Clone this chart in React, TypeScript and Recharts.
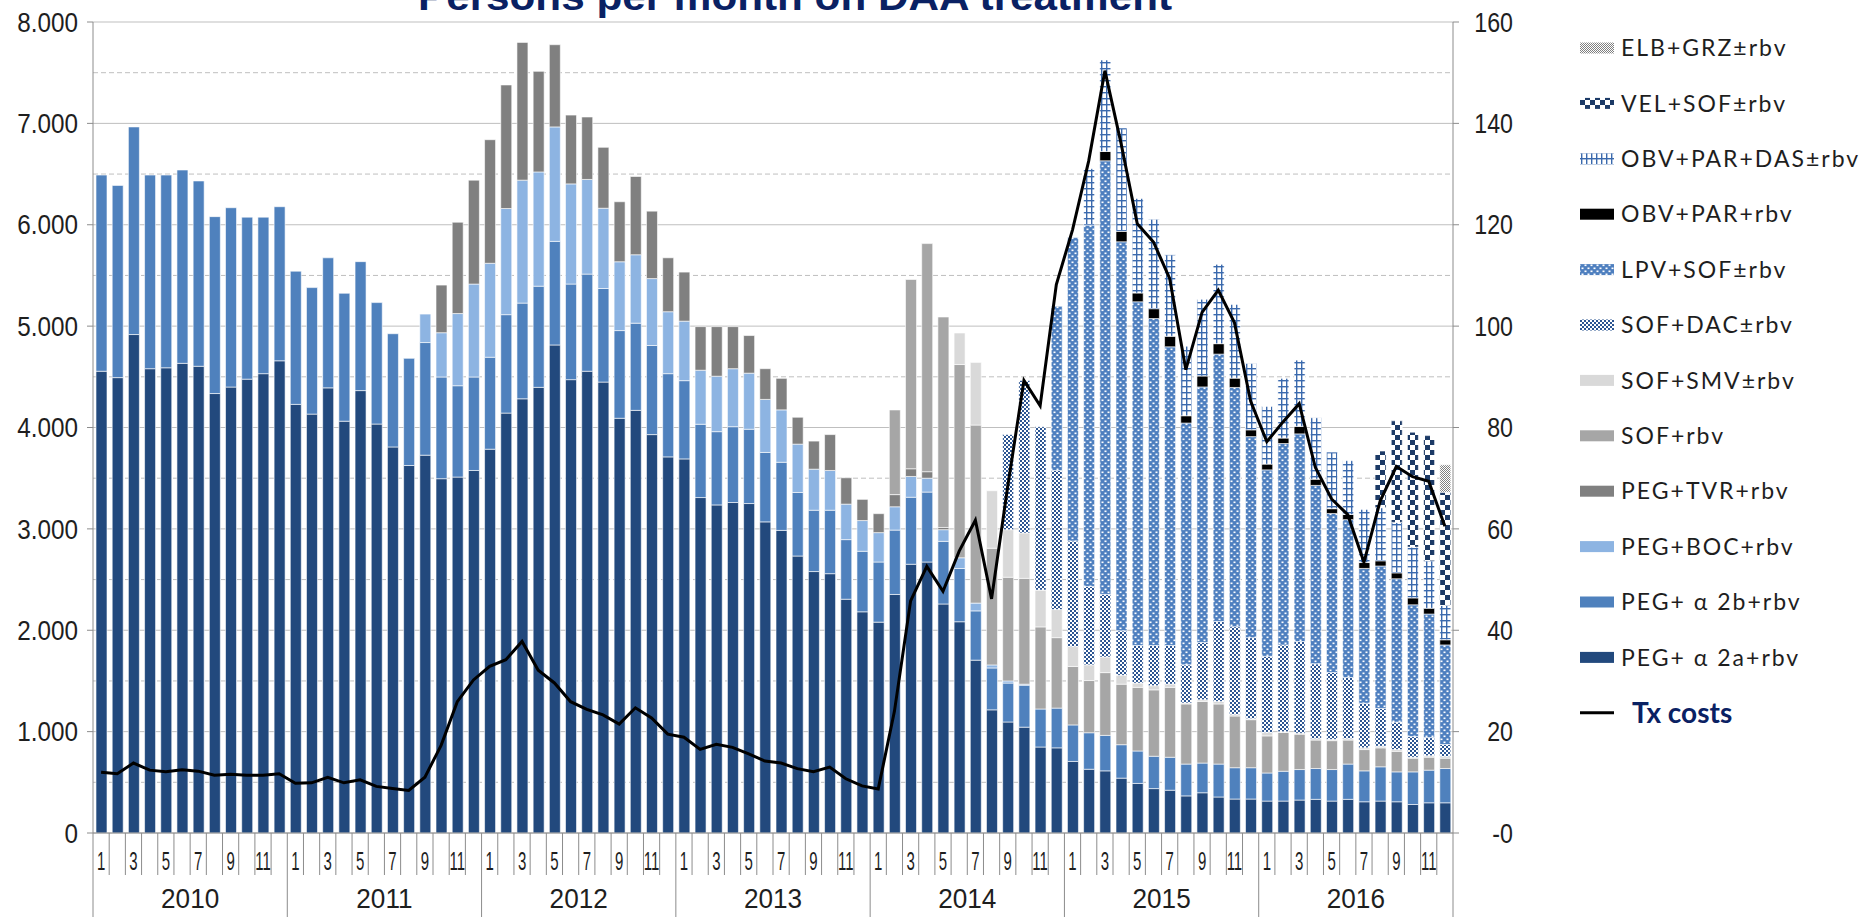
import React from 'react';
import { ComposedChart, Bar, Line, XAxis, YAxis, CartesianGrid } from 'recharts';

// ---- data, one value per month Jan 2010 .. Dec 2016 ----
const years = ['2010', '2011', '2012', '2013', '2014', '2015', '2016'];

const peg2a = [
  4555, 4492, 4917, 4580, 4589, 4633, 4604, 4335, 4399, 4477, 4531, 4658,
  4228, 4132, 4391, 4062, 4364, 4034, 3808, 3625, 3727, 3495, 3511, 3576,
  3786, 4142, 4283, 4396, 4814, 4472, 4555, 4448, 4091, 4169, 3930, 3710,
  3690, 3309, 3236, 3260, 3250, 3069, 2985, 2732, 2579, 2558, 2306, 2182,
  2080, 2353, 2651, 2673, 2259, 2084, 1705, 1215, 1095, 1044, 848, 840,
  706, 629, 613, 541, 489, 438, 422, 366, 397, 355, 335, 335,
  315, 315, 325, 332, 315, 332, 308, 315, 308, 281, 298, 298,
];
const peg2b = [
  1935, 1896, 2048, 1910, 1901, 1907, 1828, 1745, 1769, 1598, 1544, 1520,
  1314, 1248, 1283, 1262, 1272, 1198, 1117, 1057, 1111, 1003, 901, 922,
  907, 971, 944, 998, 1022, 943, 958, 923, 865, 860, 879, 821,
  772, 723, 723, 748, 733, 685, 672, 627, 605, 626, 588, 597,
  593, 635, 661, 690, 618, 525, 486, 413, 384, 414, 375, 392,
  360, 360, 350, 330, 320, 319, 325, 314, 293, 325, 309, 309,
  277, 294, 301, 304, 311, 348, 305, 338, 295, 322, 322, 338,
];
const pegBoc = [
  0, 0, 0, 0, 0, 0, 0, 0, 0, 0, 0, 0,
  0, 0, 0, 0, 0, 0, 0, 0, 281, 437, 712, 917,
  927, 1047, 1213, 1127, 1129, 988, 934, 792, 679, 675, 660, 611,
  587, 533, 547, 572, 553, 523, 517, 477, 405, 392, 350, 303,
  290, 230, 205, 137, 115, 106, 77, 30, 21, 10, 0, 0,
  0, 0, 0, 0, 0, 0, 0, 0, 0, 0, 0, 0,
  0, 0, 0, 0, 0, 0, 0, 0, 0, 0, 0, 0,
];
const pegTvr = [
  0, 0, 0, 0, 0, 0, 0, 0, 0, 0, 0, 0,
  0, 0, 0, 0, 0, 0, 0, 0, 0, 470, 901, 1025,
  1219, 1219, 1359, 992, 811, 679, 616, 601, 592, 772, 665, 532,
  484, 430, 489, 415, 371, 303, 311, 265, 277, 354, 260, 209,
  187, 120, 76, 64, 22, 0, 0, 0, 0, 0, 0, 0,
  0, 0, 0, 0, 0, 0, 0, 0, 0, 0, 0, 0,
  0, 0, 0, 0, 0, 0, 0, 0, 0, 0, 0, 0,
];
const sofRbv = [
  0, 0, 0, 0, 0, 0, 0, 0, 0, 0, 0, 0,
  0, 0, 0, 0, 0, 0, 0, 0, 0, 0, 0, 0,
  0, 0, 0, 0, 0, 0, 0, 0, 0, 0, 0, 0,
  0, 0, 0, 0, 0, 0, 0, 0, 0, 0, 0, 0,
  0, 835, 1867, 2250, 2076, 1906, 1756, 1151, 1023, 1044, 810, 695,
  577, 515, 619, 597, 628, 655, 690, 593, 608, 593, 510, 474,
  366, 383, 349, 281, 285, 237, 210, 187, 203, 135, 128, 102,
];
const sofSmv = [
  0, 0, 0, 0, 0, 0, 0, 0, 0, 0, 0, 0,
  0, 0, 0, 0, 0, 0, 0, 0, 0, 0, 0, 0,
  0, 0, 0, 0, 0, 0, 0, 0, 0, 0, 0, 0,
  0, 0, 0, 0, 0, 0, 0, 0, 0, 0, 0, 0,
  0, 0, 0, 0, 0, 311, 618, 567, 469, 448, 363, 277,
  196, 155, 154, 88, 42, 41, 31, 10, 16, 25, 16, 10,
  34, 7, 10, 14, 13, 14, 17, 16, 17, 10, 14, 17,
];
const sofDac = [
  0, 0, 0, 0, 0, 0, 0, 0, 0, 0, 0, 0,
  0, 0, 0, 0, 0, 0, 0, 0, 0, 0, 0, 0,
  0, 0, 0, 0, 0, 0, 0, 0, 0, 0, 0, 0,
  0, 0, 0, 0, 0, 0, 0, 0, 0, 0, 0, 0,
  0, 0, 0, 0, 0, 0, 0, 0, 938, 1504, 1611, 1372,
  1041, 773, 618, 438, 371, 397, 382, 376, 566, 789, 865, 799,
  751, 856, 904, 738, 660, 603, 440, 373, 271, 203, 179, 118,
];
const lpvSof = [
  0, 0, 0, 0, 0, 0, 0, 0, 0, 0, 0, 0,
  0, 0, 0, 0, 0, 0, 0, 0, 0, 0, 0, 0,
  0, 0, 0, 0, 0, 0, 0, 0, 0, 0, 0, 0,
  0, 0, 0, 0, 0, 0, 0, 0, 0, 0, 0, 0,
  0, 0, 0, 0, 0, 0, 0, 0, 0, 0, 0, 1620,
  2993, 3565, 4277, 3838, 3390, 3225, 2946, 2385, 2520, 2637, 2360, 1983,
  1839, 1987, 2048, 1760, 1568, 1557, 1330, 1405, 1414, 1300, 1219, 982,
];
const obvPar = [
  0, 0, 0, 0, 0, 0, 0, 0, 0, 0, 0, 0,
  0, 0, 0, 0, 0, 0, 0, 0, 0, 0, 0, 0,
  0, 0, 0, 0, 0, 0, 0, 0, 0, 0, 0, 0,
  0, 0, 0, 0, 0, 0, 0, 0, 0, 0, 0, 0,
  0, 0, 0, 0, 0, 0, 0, 0, 0, 0, 0, 0,
  0, 0, 92, 103, 87, 97, 104, 72, 108, 103, 92, 67,
  57, 54, 74, 61, 47, 51, 58, 51, 58, 68, 57, 51,
];
const obvParDas = [
  0, 0, 0, 0, 0, 0, 0, 0, 0, 0, 0, 0,
  0, 0, 0, 0, 0, 0, 0, 0, 0, 0, 0, 0,
  0, 0, 0, 0, 0, 0, 0, 0, 0, 0, 0, 0,
  0, 0, 0, 0, 0, 0, 0, 0, 0, 0, 0, 0,
  0, 0, 0, 0, 0, 0, 0, 0, 0, 0, 0, 0,
  0, 556, 902, 1020, 933, 882, 803, 686, 757, 783, 727, 655,
  569, 589, 654, 606, 559, 531, 524, 524, 498, 501, 468, 338,
];
const velSof = [
  0, 0, 0, 0, 0, 0, 0, 0, 0, 0, 0, 0,
  0, 0, 0, 0, 0, 0, 0, 0, 0, 0, 0, 0,
  0, 0, 0, 0, 0, 0, 0, 0, 0, 0, 0, 0,
  0, 0, 0, 0, 0, 0, 0, 0, 0, 0, 0, 0,
  0, 0, 0, 0, 0, 0, 0, 0, 0, 0, 0, 0,
  0, 0, 0, 0, 0, 0, 0, 0, 0, 0, 0, 0,
  0, 0, 0, 0, 0, 0, 0, 559, 1002, 1134, 1235, 1118,
];
const elbGrz = [
  0, 0, 0, 0, 0, 0, 0, 0, 0, 0, 0, 0,
  0, 0, 0, 0, 0, 0, 0, 0, 0, 0, 0, 0,
  0, 0, 0, 0, 0, 0, 0, 0, 0, 0, 0, 0,
  0, 0, 0, 0, 0, 0, 0, 0, 0, 0, 0, 0,
  0, 0, 0, 0, 0, 0, 0, 0, 0, 0, 0, 0,
  0, 0, 0, 0, 0, 0, 0, 0, 0, 0, 0, 0,
  0, 0, 0, 0, 0, 0, 0, 0, 0, 0, 0, 270,
];
// treatment costs, right axis
const txCosts = [
  12.0, 11.7, 13.8, 12.4, 12.1, 12.5, 12.2, 11.4, 11.6, 11.4, 11.4, 11.7,
  9.8, 9.9, 11.0, 9.9, 10.5, 9.2, 8.8, 8.4, 11.0, 17.3, 25.9, 30.2,
  32.9, 34.2, 37.8, 32.1, 29.6, 25.9, 24.4, 23.3, 21.5, 24.7, 22.7, 19.5,
  18.9, 16.5, 17.5, 16.9, 15.6, 14.2, 13.8, 12.7, 12.1, 13.0, 10.7, 9.3,
  8.7, 24.0, 45.8, 52.6, 47.7, 55.6, 61.7, 46.2, 68.4, 89.3, 84.3, 108.2,
  119.0, 132.6, 150.4, 136.0, 120.2, 116.6, 109.4, 91.4, 102.7, 107.1, 100.7, 85.2,
  77.2, 81.1, 84.7, 72.1, 65.9, 62.8, 53.4, 65.5, 72.3, 70.3, 69.4, 60.5,
];

const leftTicks = [0, 1000, 2000, 3000, 4000, 5000, 6000, 7000, 8000];
const halfTicks = [500, 1500, 2500, 3500, 4500, 5500, 6500, 7500];
const rightTicks = [0, 20, 40, 60, 80, 100, 120, 140, 160];

// stack order, bottom to top
const series = [
  { key: 'peg2a', name: 'PEG+ \u03b1 2a+rbv', fill: '#22497d', values: peg2a },
  { key: 'peg2b', name: 'PEG+ \u03b1 2b+rbv', fill: '#4f81bd', values: peg2b },
  { key: 'pegBoc', name: 'PEG+BOC+rbv', fill: '#8db4e2', values: pegBoc },
  { key: 'pegTvr', name: 'PEG+TVR+rbv', fill: '#808080', values: pegTvr },
  { key: 'sofRbv', name: 'SOF+rbv', fill: '#a6a6a6', values: sofRbv },
  { key: 'sofSmv', name: 'SOF+SMV\u00b1rbv', fill: '#d9d9d9', values: sofSmv },
  { key: 'sofDac', name: 'SOF+DAC\u00b1rbv', fill: 'url(#patDac)', values: sofDac },
  { key: 'lpvSof', name: 'LPV+SOF\u00b1rbv', fill: 'url(#patLpv)', values: lpvSof },
  { key: 'obvPar', name: 'OBV+PAR+rbv', fill: '#000000', values: obvPar },
  { key: 'obvParDas', name: 'OBV+PAR+DAS\u00b1rbv', fill: 'url(#patOpd)', values: obvParDas },
  { key: 'velSof', name: 'VEL+SOF\u00b1rbv', fill: 'url(#patVel)', values: velSof },
  { key: 'elbGrz', name: 'ELB+GRZ\u00b1rbv', fill: 'url(#patElb)', values: elbGrz },
];

const data = txCosts.map((tx, i) => {
  const row: Record<string, number> = { idx: i, tx };
  series.forEach((s) => { row[s.key] = s.values[i]; });
  return row;
});

// ---- layout ----
const W = 1872;
const H = 917;
const MARGIN = { top: 22, right: 349, bottom: 0, left: 8 };
const LEFT_W = 85;
const RIGHT_W = 70;
const X_H = 84;
const PLOT_LEFT = MARGIN.left + LEFT_W;
const PLOT_RIGHT = W - MARGIN.right - RIGHT_W;
const PLOT_TOP = MARGIN.top;
const PLOT_BOTTOM = H - MARGIN.bottom - X_H;
const PLOT_H = PLOT_BOTTOM - PLOT_TOP;
const BAND = (PLOT_RIGHT - PLOT_LEFT) / txCosts.length;

const AXIS_GRAY = '#8c8c8c';
const TEXT = '#1e1e1e';
const FONT = '"Liberation Sans", Arial, sans-serif';

const gridY = (vals: number[]) => () => vals.map((v) => PLOT_TOP + PLOT_H * (1 - v / 8000));

const fmtLeft = (v: number) => (v === 0 ? '0' : (v / 1000).toFixed(3));
const fmtRight = (v: number) => (v === 0 ? '-0' : String(v));

const LeftTick = ({ x, y, payload }: any) => (
  <text
    transform={`translate(${x},${y}) scale(0.9,1)`}
    textAnchor="end"
    dy="0.36em"
    fontSize={27}
    fontFamily={FONT}
    fill={TEXT}
  >
    {fmtLeft(payload.value)}
  </text>
);

const RightTick = ({ x, y, payload }: any) => (
  <text
    transform={`translate(${x + 52},${y}) scale(0.86,1)`}
    textAnchor="end"
    dy="0.36em"
    fontSize={27}
    fontFamily={FONT}
    fill={TEXT}
  >
    {fmtRight(payload.value)}
  </text>
);

const MonthTick = ({ x, payload }: any) => {
  const i = Number(payload.value);
  const m = (i % 12) + 1;
  const left = x - BAND / 2;
  const right = x + BAND / 2;
  return (
    <g>
      <line x1={left} x2={left} y1={PLOT_BOTTOM} y2={m === 1 ? H : PLOT_BOTTOM + 42} stroke={AXIS_GRAY} strokeWidth={1} />
      {i === txCosts.length - 1 && (
        <line x1={right} x2={right} y1={PLOT_BOTTOM} y2={H} stroke={AXIS_GRAY} strokeWidth={1} />
      )}
      {m % 2 === 1 && (
        <text
          transform={`translate(${x},${PLOT_BOTTOM + 37}) scale(0.6,1)`}
          textAnchor="middle"
          fontSize={25}
          fontFamily={FONT}
          fill={TEXT}
        >
          {m}
        </text>
      )}
      {m === 7 && (
        <text
          transform={`translate(${left},${H - 9}) scale(0.97,1)`}
          textAnchor="middle"
          fontSize={27}
          fontFamily={FONT}
          fill={TEXT}
        >
          {years[Math.floor(i / 12)]}
        </text>
      )}
    </g>
  );
};

const Patterns = () => (
  <defs>
    <pattern id="patDac" width="4" height="4" patternUnits="userSpaceOnUse">
      <rect width="4" height="4" fill="#ffffff" />
      <rect width="2" height="2" fill="#2c5592" />
      <rect x="2" y="2" width="2" height="2" fill="#2c5592" />
    </pattern>
    <pattern id="patLpv" width="6" height="6" patternUnits="userSpaceOnUse">
      <rect width="6" height="6" fill="#4e7fbf" />
      <rect x="0.5" y="0.5" width="2" height="1.6" fill="#ffffff" />
      <rect x="3.5" y="3.5" width="2" height="1.6" fill="#ffffff" />
    </pattern>
    <pattern id="patOpd" width="5" height="6" patternUnits="userSpaceOnUse">
      <rect width="5" height="6" fill="#ffffff" />
      <rect x="1" y="0" width="1.4" height="6" fill="#3a69ad" />
      <rect x="0" y="2" width="5" height="1.4" fill="#3a69ad" />
    </pattern>
    <pattern id="patVel" width="10" height="10" patternUnits="userSpaceOnUse">
      <rect width="10" height="10" fill="#ffffff" />
      <rect width="5" height="5" fill="#1c3a66" />
      <rect x="5" y="5" width="5" height="5" fill="#1c3a66" />
    </pattern>
    <pattern id="patElb" width="2" height="2" patternUnits="userSpaceOnUse">
      <rect width="2" height="2" fill="#ffffff" />
      <rect width="1" height="1" fill="#7f7f7f" />
      <rect x="1" y="1" width="1" height="1" fill="#7f7f7f" />
    </pattern>
  </defs>
);

const LEGEND_X = 1580;
const LEGEND_Y0 = 48;
const LEGEND_STEP = 55.4;

const Overlay = () => {
  const items = [...series].reverse();
  return (
    <svg width={W} height={H} style={{ position: 'absolute', left: 0, top: 0, pointerEvents: 'none' }}>
      <Patterns />
      <text
        x={795}
        y={10}
        textAnchor="middle"
        fontSize={38}
        fontWeight="bold"
        fontFamily={FONT}
        fill="#0a2163"
        textLength={754}
        lengthAdjust="spacingAndGlyphs"
      >
        Persons per month on DAA treatment
      </text>
      {items.map((s, k) => {
        const cy = LEGEND_Y0 + k * LEGEND_STEP;
        return (
          <g key={s.key}>
            <rect x={LEGEND_X} y={cy - 5.5} width={34} height={11} fill={s.fill} />
            <text
              x={1621}
              y={cy}
              dy="0.36em"
              fontSize={23}
              letterSpacing={2}
              fontFamily="Lato, sans-serif"
              fill={TEXT}
            >
              {s.name}
            </text>
          </g>
        );
      })}
      <line
        x1={LEGEND_X}
        x2={LEGEND_X + 34}
        y1={LEGEND_Y0 + 12 * LEGEND_STEP}
        y2={LEGEND_Y0 + 12 * LEGEND_STEP}
        stroke="#000"
        strokeWidth={3}
      />
      <text
        x={1632}
        y={LEGEND_Y0 + 12 * LEGEND_STEP}
        dy="0.36em"
        fontSize={28}
        fontWeight="bold"
        fontFamily="Lato, sans-serif"
        fill="#0a2163"
      >
        Tx costs
      </text>
    </svg>
  );
};

export default function App() {
  return (
    <div style={{ position: 'absolute', left: 0, top: 0, width: W, height: H, background: '#fff' }}>
      <ComposedChart width={W} height={H} data={data} margin={MARGIN}>
        <CartesianGrid
          yAxisId="left"
          vertical={false}
          stroke="#bfbfbf"
          horizontalCoordinatesGenerator={gridY(leftTicks)}
        />
        <CartesianGrid
          yAxisId="left"
          vertical={false}
          stroke="#bfbfbf"
          strokeDasharray="5 3"
          horizontalCoordinatesGenerator={gridY(halfTicks)}
        />
        <XAxis
          dataKey="idx"
          type="category"
          interval={0}
          height={X_H}
          tickLine={false}
          axisLine={{ stroke: AXIS_GRAY }}
          tick={<MonthTick />}
        />
        <YAxis
          yAxisId="left"
          orientation="left"
          width={LEFT_W}
          domain={[0, 8000]}
          ticks={leftTicks}
          interval={0}
          tickSize={6}
          tickMargin={9}
          tickLine={{ stroke: AXIS_GRAY }}
          axisLine={{ stroke: AXIS_GRAY }}
          tick={<LeftTick />}
        />
        <YAxis
          yAxisId="right"
          orientation="right"
          width={RIGHT_W}
          domain={[0, 160]}
          ticks={rightTicks}
          interval={0}
          tickSize={6}
          tickLine={{ stroke: AXIS_GRAY }}
          axisLine={{ stroke: AXIS_GRAY }}
          tick={<RightTick />}
        />
        {series.map((s) => (
          <Bar
            key={s.key}
            dataKey={s.key}
            name={s.name}
            yAxisId="left"
            stackId="drugs"
            fill={s.fill}
            stroke="#ffffff"
            strokeWidth={0.6}
            barSize={11}
            isAnimationActive={false}
          />
        ))}
        <Line
          yAxisId="right"
          dataKey="tx"
          name="Tx costs"
          type="linear"
          stroke="#000000"
          strokeWidth={3}
          dot={false}
          isAnimationActive={false}
        />
      </ComposedChart>
      <Overlay />
    </div>
  );
}
